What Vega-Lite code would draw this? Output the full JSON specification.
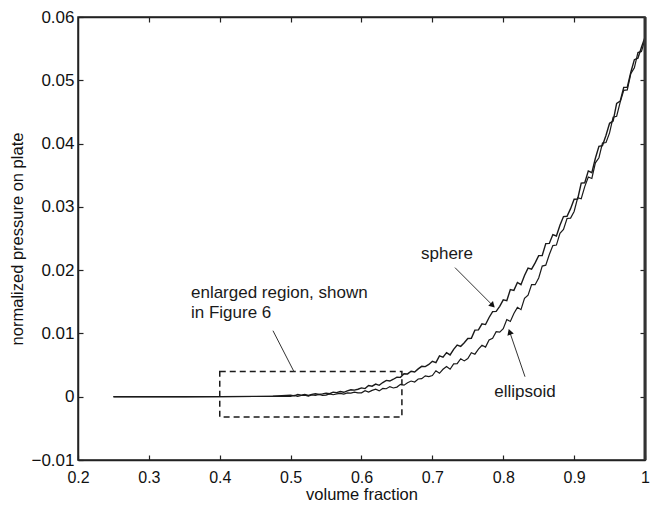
{
  "$schema": "https://vega.github.io/schema/vega-lite/v6.json",
  "width": 567,
  "height": 443,
  "autosize": {"type": "none"},
  "padding": {"left": 78, "top": 17, "right": 8, "bottom": 46},
  "background": "white",
  "config": {
    "font": "Liberation Sans",
    "view": {"stroke": "#222", "strokeWidth": 1.5},
    "axis": {
      "grid": false,
      "domainColor": "#222",
      "domainWidth": 1.5,
      "tickColor": "#222",
      "tickWidth": 1.2,
      "tickSize": -5,
      "labelFont": "Liberation Sans",
      "labelFontSize": 17,
      "labelColor": "#111",
      "titleFont": "Liberation Sans",
      "titleFontSize": 16.5,
      "titleFontWeight": "normal",
      "titleColor": "#111"
    }
  },
  "resolve": {"axis": {"x": "independent", "y": "independent"}},
  "datasets": {
    "curves": [
      {"x": 0.25, "s": 0.0, "e": 0.0},
      {"x": 0.3, "s": 0.0, "e": 0.0},
      {"x": 0.35, "s": 0.0, "e": 0.0},
      {"x": 0.4, "s": 0.00002, "e": 0.00001},
      {"x": 0.45, "s": 0.00005, "e": 0.00003},
      {"x": 0.475, "s": 0.0001, "e": 0.00005},
      {"x": 0.5, "s": 0.00025, "e": 0.00006},
      {"x": 0.505, "s": 0.00014, "e": 0.00021},
      {"x": 0.51, "s": 0.00034, "e": 0.00007},
      {"x": 0.515, "s": 0.00023, "e": 0.00019},
      {"x": 0.52, "s": 0.00035, "e": 0.00026},
      {"x": 0.525, "s": 0.0002, "e": 0.00011},
      {"x": 0.53, "s": 0.00036, "e": 0.00027},
      {"x": 0.535, "s": 0.00047, "e": 0.00022},
      {"x": 0.54, "s": 0.00036, "e": 0.00036},
      {"x": 0.545, "s": 0.00044, "e": 0.00022},
      {"x": 0.55, "s": 0.00055, "e": 0.00026},
      {"x": 0.555, "s": 0.00048, "e": 0.00043},
      {"x": 0.56, "s": 0.00072, "e": 0.00031},
      {"x": 0.565, "s": 0.00065, "e": 0.00045},
      {"x": 0.57, "s": 0.00081, "e": 0.00054},
      {"x": 0.575, "s": 0.0007, "e": 0.00041},
      {"x": 0.58, "s": 0.00092, "e": 0.00059},
      {"x": 0.585, "s": 0.00109, "e": 0.00056},
      {"x": 0.59, "s": 0.00104, "e": 0.00072},
      {"x": 0.595, "s": 0.00118, "e": 0.0006},
      {"x": 0.6, "s": 0.0014, "e": 0.00062},
      {"x": 0.605, "s": 0.00128, "e": 0.00096},
      {"x": 0.61, "s": 0.00178, "e": 0.00072},
      {"x": 0.615, "s": 0.00166, "e": 0.001},
      {"x": 0.62, "s": 0.002, "e": 0.00118},
      {"x": 0.625, "s": 0.0018, "e": 0.00092},
      {"x": 0.63, "s": 0.00224, "e": 0.0013},
      {"x": 0.635, "s": 0.00258, "e": 0.00126},
      {"x": 0.64, "s": 0.00248, "e": 0.0016},
      {"x": 0.645, "s": 0.00276, "e": 0.00138},
      {"x": 0.65, "s": 0.0031, "e": 0.00152},
      {"x": 0.655, "s": 0.00306, "e": 0.00196},
      {"x": 0.66, "s": 0.00364, "e": 0.00182},
      {"x": 0.665, "s": 0.0036, "e": 0.0022},
      {"x": 0.67, "s": 0.00402, "e": 0.00248},
      {"x": 0.675, "s": 0.0039, "e": 0.00232},
      {"x": 0.68, "s": 0.0044, "e": 0.0028},
      {"x": 0.685, "s": 0.0048, "e": 0.00286},
      {"x": 0.69, "s": 0.00476, "e": 0.0033},
      {"x": 0.695, "s": 0.0051, "e": 0.00318},
      {"x": 0.7, "s": 0.0056, "e": 0.00334},
      {"x": 0.705, "s": 0.0054, "e": 0.0041},
      {"x": 0.71, "s": 0.00644, "e": 0.0037},
      {"x": 0.715, "s": 0.00624, "e": 0.00434},
      {"x": 0.72, "s": 0.00696, "e": 0.00478},
      {"x": 0.725, "s": 0.0066, "e": 0.00434},
      {"x": 0.73, "s": 0.00748, "e": 0.0052},
      {"x": 0.735, "s": 0.00816, "e": 0.00522},
      {"x": 0.74, "s": 0.00796, "e": 0.006},
      {"x": 0.745, "s": 0.00852, "e": 0.00566},
      {"x": 0.75, "s": 0.0092, "e": 0.00604},
      {"x": 0.755, "s": 0.00924, "e": 0.00696},
      {"x": 0.76, "s": 0.01052, "e": 0.00672},
      {"x": 0.765, "s": 0.01056, "e": 0.00752},
      {"x": 0.77, "s": 0.01152, "e": 0.00812},
      {"x": 0.775, "s": 0.0114, "e": 0.00784},
      {"x": 0.78, "s": 0.01252, "e": 0.00896},
      {"x": 0.785, "s": 0.01344, "e": 0.00924},
      {"x": 0.79, "s": 0.01348, "e": 0.01028},
      {"x": 0.795, "s": 0.01428, "e": 0.0102},
      {"x": 0.8, "s": 0.0153, "e": 0.01076},
      {"x": 0.805, "s": 0.01518, "e": 0.0122},
      {"x": 0.81, "s": 0.01692, "e": 0.0119},
      {"x": 0.815, "s": 0.0168, "e": 0.01316},
      {"x": 0.82, "s": 0.01806, "e": 0.01412},
      {"x": 0.825, "s": 0.0177, "e": 0.01376},
      {"x": 0.83, "s": 0.01916, "e": 0.01554},
      {"x": 0.835, "s": 0.02032, "e": 0.01606},
      {"x": 0.84, "s": 0.02016, "e": 0.01772},
      {"x": 0.845, "s": 0.02114, "e": 0.0177},
      {"x": 0.85, "s": 0.0223, "e": 0.01876},
      {"x": 0.855, "s": 0.02232, "e": 0.02064},
      {"x": 0.86, "s": 0.0242, "e": 0.02078},
      {"x": 0.865, "s": 0.02422, "e": 0.02248},
      {"x": 0.87, "s": 0.02562, "e": 0.02388},
      {"x": 0.875, "s": 0.0254, "e": 0.02396},
      {"x": 0.88, "s": 0.02708, "e": 0.02582},
      {"x": 0.885, "s": 0.02846, "e": 0.02642},
      {"x": 0.89, "s": 0.02852, "e": 0.02816},
      {"x": 0.895, "s": 0.02972, "e": 0.02822},
      {"x": 0.9, "s": 0.0312, "e": 0.02928},
      {"x": 0.905, "s": 0.03124, "e": 0.03144},
      {"x": 0.91, "s": 0.03376, "e": 0.03128},
      {"x": 0.915, "s": 0.0338, "e": 0.0332},
      {"x": 0.92, "s": 0.03568, "e": 0.03472},
      {"x": 0.925, "s": 0.0354, "e": 0.03448},
      {"x": 0.93, "s": 0.03768, "e": 0.03696},
      {"x": 0.935, "s": 0.03956, "e": 0.03776},
      {"x": 0.94, "s": 0.03968, "e": 0.04008},
      {"x": 0.945, "s": 0.04132, "e": 0.04016},
      {"x": 0.95, "s": 0.0432, "e": 0.04168},
      {"x": 0.955, "s": 0.04354, "e": 0.04416},
      {"x": 0.96, "s": 0.04636, "e": 0.04432},
      {"x": 0.965, "s": 0.0467, "e": 0.04656},
      {"x": 0.97, "s": 0.04888, "e": 0.0484},
      {"x": 0.975, "s": 0.0489, "e": 0.04848},
      {"x": 0.98, "s": 0.05128, "e": 0.05106},
      {"x": 0.985, "s": 0.05326, "e": 0.05196},
      {"x": 0.99, "s": 0.05348, "e": 0.05438},
      {"x": 0.995, "s": 0.05522, "e": 0.05456},
      {"x": 1.0, "s": 0.0568, "e": 0.0565}
    ],
    "arrows": [
      {"x1": 0.7319, "y1": 0.0204, "x2": 0.7841, "y2": 0.01454, "angle": 135, "head": true},
      {"x1": 0.8307, "y1": 0.00316, "x2": 0.8095, "y2": 0.01011, "angle": 341, "head": true},
      {"x1": 0.4751, "y1": 0.01043, "x2": 0.5048, "y2": 0.00395, "angle": 155, "head": false}
    ],
    "clabels": [
      {"x": 0.7206, "y": 0.0226, "text": "sphere"},
      {"x": 0.8307, "y": 0.0008, "text": "ellipsoid"}
    ],
    "llabels": [
      {"x": 0.3594, "y": 0.01643, "text": "enlarged region, shown"},
      {"x": 0.3594, "y": 0.01327, "text": "in Figure 6"}
    ],
    "box": [
      {"x1": 0.4, "x2": 0.657, "y1": -0.0032, "y2": 0.004}
    ]
  },
  "layer": [
    {
      "data": {"name": "curves"},
      "mark": {"type": "line", "color": "#1a1a1a", "strokeWidth": 1.4, "interpolate": "linear"},
      "encoding": {
        "x": {"field": "x", "type": "quantitative", "scale": {"domain": [0.2, 1], "nice": false, "zero": false},
              "axis": {"orient": "bottom", "title": "volume fraction", "values": [0.2, 0.3, 0.4, 0.5, 0.6, 0.7, 0.8, 0.9, 1], "labelExpr": "datum.value == 1 ? '1' : format(datum.value, '.1f')", "labelFontSize": 16, "labelPadding": 14, "titlePadding": 1, "labelFlush": false}},
        "y": {"field": "s", "type": "quantitative", "scale": {"domain": [-0.01, 0.06], "nice": false, "zero": false},
              "axis": {"orient": "left", "title": "normalized pressure on plate", "values": [-0.01, 0, 0.01, 0.02, 0.03, 0.04, 0.05, 0.06], "labelExpr": "datum.value == 0 ? '0' : format(datum.value, '.2f')", "labelPadding": 9, "titlePadding": 5, "labelFlush": false}}
      }
    },
    {
      "data": {"name": "curves"},
      "mark": {"type": "line", "color": "#1a1a1a", "strokeWidth": 1.2},
      "encoding": {
        "x": {"field": "x", "type": "quantitative",
              "axis": {"orient": "top", "title": null, "labels": false, "values": [0.3, 0.4, 0.5, 0.6, 0.7, 0.8, 0.9]}},
        "y": {"field": "e", "type": "quantitative",
              "axis": {"orient": "right", "title": null, "labels": false, "values": [0, 0.01, 0.02, 0.03, 0.04, 0.05]}}
      }
    },
    {
      "data": {"name": "box"},
      "mark": {"type": "rect", "filled": false, "stroke": "#1a1a1a", "strokeWidth": 1.5, "strokeDash": [6, 4]},
      "encoding": {
        "x": {"field": "x1", "type": "quantitative", "axis": null},
        "x2": {"field": "x2"},
        "y": {"field": "y1", "type": "quantitative", "axis": null},
        "y2": {"field": "y2"}
      }
    },
    {
      "data": {"name": "arrows"},
      "mark": {"type": "rule", "color": "#333", "strokeWidth": 1},
      "encoding": {
        "x": {"field": "x1", "type": "quantitative", "axis": null},
        "y": {"field": "y1", "type": "quantitative", "axis": null},
        "x2": {"field": "x2"},
        "y2": {"field": "y2"}
      }
    },
    {
      "data": {"name": "arrows"},
      "transform": [{"filter": "datum.head"}],
      "mark": {"type": "point", "shape": "triangle", "filled": true, "color": "#111", "size": 45, "opacity": 1},
      "encoding": {
        "x": {"field": "x2", "type": "quantitative", "axis": null},
        "y": {"field": "y2", "type": "quantitative", "axis": null},
        "angle": {"field": "angle", "type": "quantitative", "scale": null}
      }
    },
    {
      "data": {"name": "clabels"},
      "mark": {"type": "text", "font": "Liberation Sans", "fontSize": 17, "color": "#1a1a1a", "baseline": "middle", "align": "center"},
      "encoding": {
        "x": {"field": "x", "type": "quantitative", "axis": null},
        "y": {"field": "y", "type": "quantitative", "axis": null},
        "text": {"field": "text"}
      }
    },
    {
      "data": {"name": "llabels"},
      "mark": {"type": "text", "font": "Liberation Sans", "fontSize": 17, "color": "#1a1a1a", "baseline": "middle", "align": "left"},
      "encoding": {
        "x": {"field": "x", "type": "quantitative", "axis": null},
        "y": {"field": "y", "type": "quantitative", "axis": null},
        "text": {"field": "text"}
      }
    },
    {
      "data": {"values": [{"v": 1}]},
      "mark": {"type": "rule", "color": "#333", "strokeWidth": 3},
      "encoding": {
        "x": {"datum": 1, "type": "quantitative", "axis": null}
      }
    }
  ]
}
